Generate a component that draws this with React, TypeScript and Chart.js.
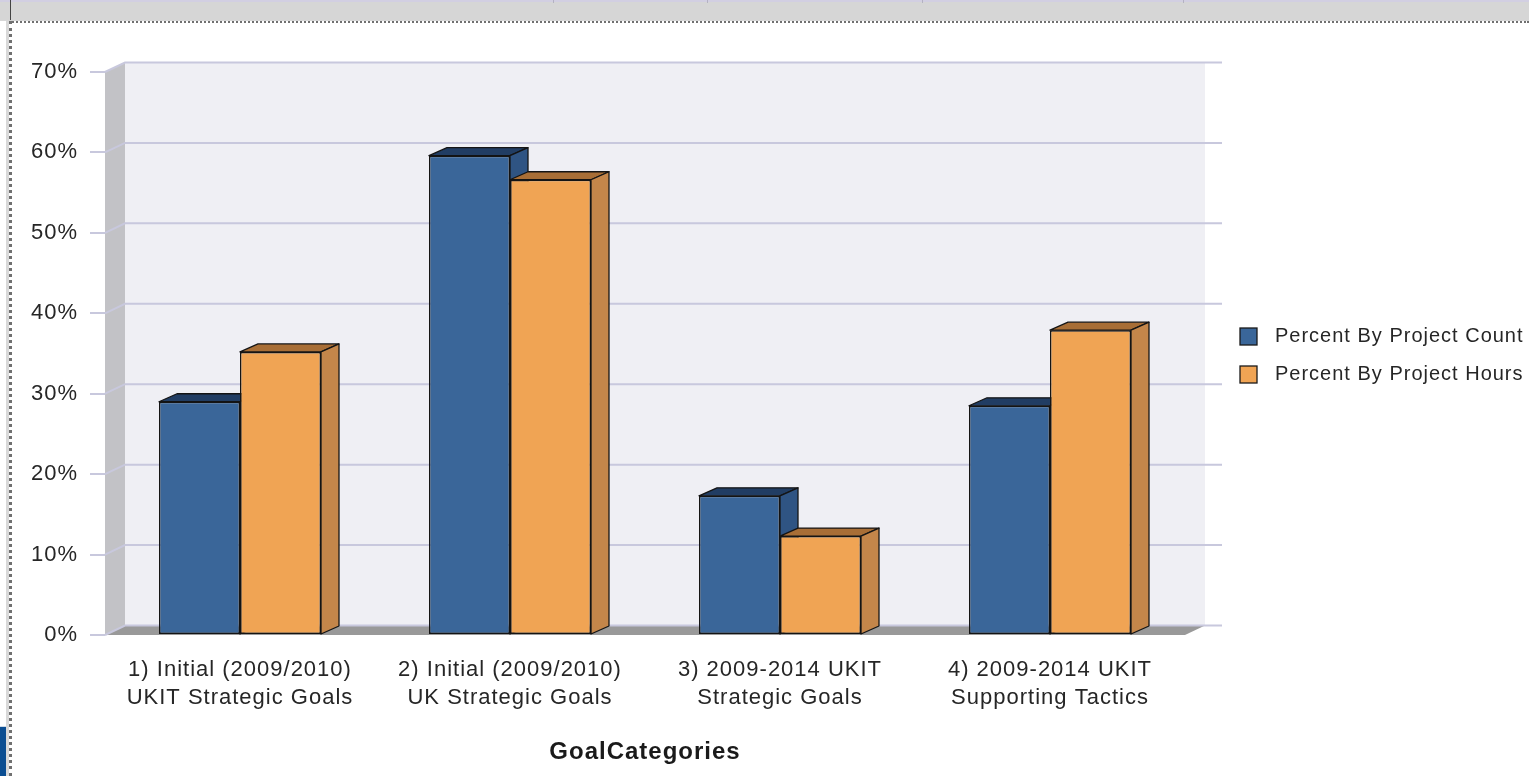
import React, { useEffect, useRef } from 'react';
import { Chart, registerables } from 'chart.js';

Chart.register(...registerables);

const categories: string[][] = [
  ['1) Initial (2009/2010)', 'UKIT Strategic Goals'],
  ['2) Initial (2009/2010)', 'UK Strategic Goals'],
  ['3) 2009-2014 UKIT', 'Strategic Goals'],
  ['4) 2009-2014 UKIT', 'Supporting Tactics'],
];
const seriesNames = ['Percent By Project Count', 'Percent By Project Hours'];
const projectCount = [29.0, 59.6, 17.3, 28.5];
const projectHours = [35.2, 56.6, 12.3, 37.9];
const yTicks = [0, 10, 20, 30, 40, 50, 60, 70];
const axisTitle = 'GoalCategories';

const FRONT = ['#3a6699', '#f0a454'];
const TOPC = ['#213d63', '#a86e36'];
const SIDEC = ['#2f5483', '#c4864a'];
const FONT = '"Liberation Sans", Arial, sans-serif';
const TEXT = '#262626';

const DX = 20, DY = -9.5, BDX = 18, BDY = -8;

function poly(ctx: CanvasRenderingContext2D, pts: number[][], fill: string, stroke?: string) {
  ctx.beginPath();
  ctx.moveTo(pts[0][0], pts[0][1]);
  for (let i = 1; i < pts.length; i++) ctx.lineTo(pts[i][0], pts[i][1]);
  ctx.closePath();
  ctx.fillStyle = fill;
  ctx.fill();
  if (stroke) {
    ctx.strokeStyle = stroke;
    ctx.lineWidth = 1.3;
    ctx.lineJoin = 'round';
    ctx.stroke();
  }
}

const threeD = {
  id: 'threeD',
  beforeLayout(chart: any) {
    chart.ctx.letterSpacing = '1px';
  },
  beforeDraw(chart: any) {
    chart.ctx.letterSpacing = '1px';
  },
  beforeDatasetsDraw(chart: any) {
    const { ctx, chartArea: ca, scales } = chart;
    const ys = scales.y;
    ctx.save();
    // back wall
    ctx.fillStyle = '#efeff4';
    ctx.fillRect(ca.left + DX, ca.top + DY, ca.right - ca.left, ca.bottom - ca.top);
    // left wall
    poly(ctx, [[ca.left, ca.top], [ca.left + DX, ca.top + DY], [ca.left + DX, ca.bottom + DY], [ca.left, ca.bottom]], '#c2c2c6');
    // floor
    poly(ctx, [[ca.left, ca.bottom], [ca.left + DX, ca.bottom + DY], [ca.right + DX, ca.bottom + DY], [ca.right, ca.bottom]], '#999999');
    // gridlines
    ctx.strokeStyle = '#c8c8dd';
    ctx.lineWidth = 2;
    for (const v of yTicks) {
      const py = ys.getPixelForValue(v);
      ctx.beginPath();
      ctx.moveTo(ca.left, py);
      ctx.lineTo(ca.left + DX, py + DY);
      ctx.lineTo(ca.right + DX + 17, py + DY);
      ctx.stroke();
    }
    // bar top & side faces
    chart.data.datasets.forEach((_ds: any, di: number) => {
      const meta = chart.getDatasetMeta(di);
      meta.data.forEach((el: any) => {
        const l = el.x - el.width / 2;
        const r = el.x + el.width / 2;
        const t = el.y;
        const b = el.base;
        poly(ctx, [[l, t], [r, t], [r + BDX, t + BDY], [l + BDX, t + BDY]], TOPC[di], '#141414');
        poly(ctx, [[r, t], [r + BDX, t + BDY], [r + BDX, b + BDY], [r, b]], SIDEC[di], '#141414');
      });
    });
    ctx.restore();
  },
  afterDraw(chart: any) {
    const { ctx, chartArea: ca } = chart;
    ctx.save();
    ctx.letterSpacing = '1px';
    ctx.font = `20px ${FONT}`;
    ctx.textBaseline = 'middle';
    ctx.textAlign = 'left';
    const lx = ca.right + 55;
    chart.data.datasets.forEach((ds: any, i: number) => {
      const by = 328 + i * 38;
      ctx.fillStyle = ds.backgroundColor;
      ctx.fillRect(lx, by, 17, 17);
      ctx.strokeStyle = '#1a1a1a';
      ctx.lineWidth = 1.3;
      ctx.strokeRect(lx, by, 17, 17);
      ctx.fillStyle = TEXT;
      ctx.fillText(ds.label, lx + 35, by + 8.5);
    });
    ctx.restore();
  },
};

export default function App() {
  const ref = useRef<HTMLCanvasElement>(null);
  useEffect(() => {
    const chart = new Chart(ref.current as HTMLCanvasElement, {
      type: 'bar',
      data: {
        labels: categories,
        datasets: [
          {
            label: seriesNames[0],
            data: projectCount,
            backgroundColor: FRONT[0],
            borderColor: '#141414',
            borderWidth: 1.5,
            borderSkipped: false,
            categoryPercentage: 0.6,
            barPercentage: 1.0,
          },
          {
            label: seriesNames[1],
            data: projectHours,
            backgroundColor: FRONT[1],
            borderColor: '#141414',
            borderWidth: 1.5,
            borderSkipped: false,
            categoryPercentage: 0.6,
            barPercentage: 1.0,
          },
        ],
      },
      options: {
        animation: false,
        responsive: false,
        devicePixelRatio: 1,
        layout: { padding: { left: 0, right: 344, top: 72, bottom: 0 } },
        plugins: { legend: { display: false }, tooltip: { enabled: false } },
        scales: {
          x: {
            grid: { display: false, drawTicks: false },
            border: { display: false },
            ticks: {
              autoSkip: false,
              maxRotation: 0,
              padding: 21,
              color: TEXT,
              font: { family: FONT, size: 22, lineHeight: 1.27 },
            },
            title: {
              display: true,
              text: axisTitle,
              color: '#1a1a1a',
              font: { family: FONT, size: 24, weight: 'bold', lineHeight: 1.2 },
              padding: { top: 0, bottom: 9 },
            },
            afterFit: (s: any) => { s.height = 141; },
          },
          y: {
            min: 0,
            max: 70,
            grid: { display: true, drawOnChartArea: false, drawTicks: true, tickLength: 15, color: '#c8c8dd', lineWidth: 2 },
            border: { display: false },
            ticks: {
              stepSize: 10,
              padding: 12,
              color: TEXT,
              font: { family: FONT, size: 22 },
              callback: (v: any) => `${v}%`,
            },
            afterFit: (s: any) => { s.width = 105; },
          },
        },
      } as any,
      plugins: [threeD],
    });
    return () => chart.destroy();
  }, []);

  return (
    <div style={{ position: 'fixed', left: 0, top: 0, width: 1529, height: 776, overflow: 'hidden', background: '#ffffff' }}>
      <canvas ref={ref} width={1529} height={776} style={{ position: 'absolute', left: 0, top: 0, width: 1529, height: 776 }} />
      {/* window chrome */}
      <div style={{ position: 'absolute', left: 0, top: 0, width: 1529, height: 21, background: '#d6d6d6', borderTop: '2px solid #d2cfe2', boxSizing: 'border-box' }} />
      {[553, 707, 922, 1183].map((x) => (
        <div key={x} style={{ position: 'absolute', left: x, top: 0, width: 1, height: 3, background: '#b4b2c2' }} />
      ))}
      <div style={{ position: 'absolute', left: 10, top: 0, width: 1, height: 20, background: '#444' }} />
      <div style={{ position: 'absolute', left: 9, top: 21, width: 1520, height: 0, borderTop: '2px dotted #707070' }} />
      <div style={{ position: 'absolute', left: 6, top: 21, width: 3, height: 755, background: '#d9d9d9' }} />
      <div style={{ position: 'absolute', left: 9, top: 21, width: 0, height: 755, borderLeft: '3px dotted #707070' }} />
      <div style={{ position: 'absolute', left: 0, top: 726, width: 6, height: 1, background: '#cfdbe8' }} />
      <div style={{ position: 'absolute', left: 0, top: 727, width: 6, height: 49, background: '#0b4e92' }} />
    </div>
  );
}
